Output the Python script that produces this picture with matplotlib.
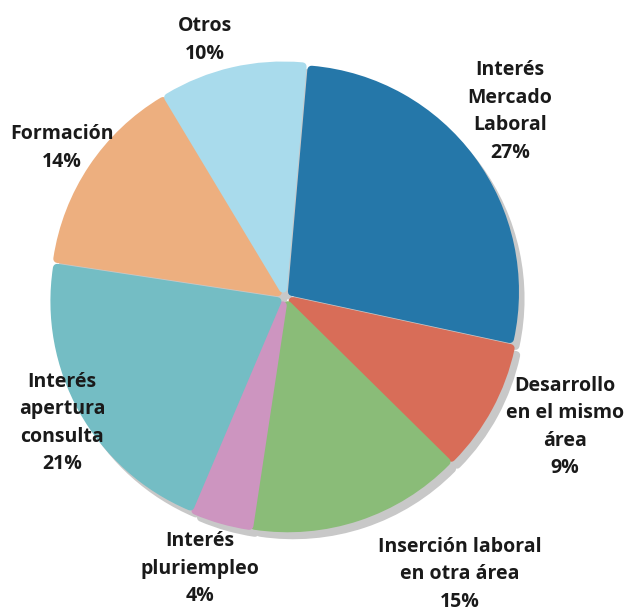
import matplotlib.pyplot as plt

labels = ["Interés\nMercado\nLaboral", "Desarrollo\nen el mismo\nárea", "Inserción laboral\nen otra área",
          "Interés\npluriempleo", "Interés\napertura\nconsulta", "Formación", "Otros"]
values = [27, 9, 15, 4, 21, 14, 10]
colors = ["#2577A9", "#D86D58", "#8ABC78", "#CD95C0", "#74BDC4", "#EDAF7F", "#A9DBEC"]

# label centres in data units (1 unit = ~232 px)
label_pos = [(0.97, 0.80), (1.207, -0.56), (0.754, -1.194), (-0.366, -1.172),
             (-0.961, -0.543), (-0.961, 0.642), (-0.345, 1.108)]

fig = plt.figure(figsize=(6.3, 6.1), dpi=100)
ax = fig.add_axes([0, 0, 1, 1])

r = 0.96
expl = [0.038] * len(values)
lw = 6

# gray shadow behind the slices
ax.pie(values, radius=r, startangle=85, counterclock=False, explode=expl,
       center=(0.024, -0.03), colors=["#C8C8C8"] * len(values),
       wedgeprops=dict(linewidth=lw, edgecolor="#C8C8C8", joinstyle="round"))

wedges, _ = ax.pie(values, radius=r, startangle=85, counterclock=False, explode=expl,
                   colors=colors, wedgeprops=dict(linewidth=lw, joinstyle="round"))
for w, c in zip(wedges, colors):
    w.set_edgecolor(c)

for lab, v, (x, y) in zip(labels, values, label_pos):
    ax.text(x, y, f"{lab}\n{v}%", ha="center", va="center", fontsize=14,
            fontweight="bold", family="Open Sans", color="#1a1a1a", linespacing=1.5)

ax.set_xlim(-285 / 232, 345 / 232)
ax.set_ylim(-313 / 232, 297 / 232)
ax.set_aspect("auto")
ax.axis("off")

plt.savefig("out.png", dpi=100)
